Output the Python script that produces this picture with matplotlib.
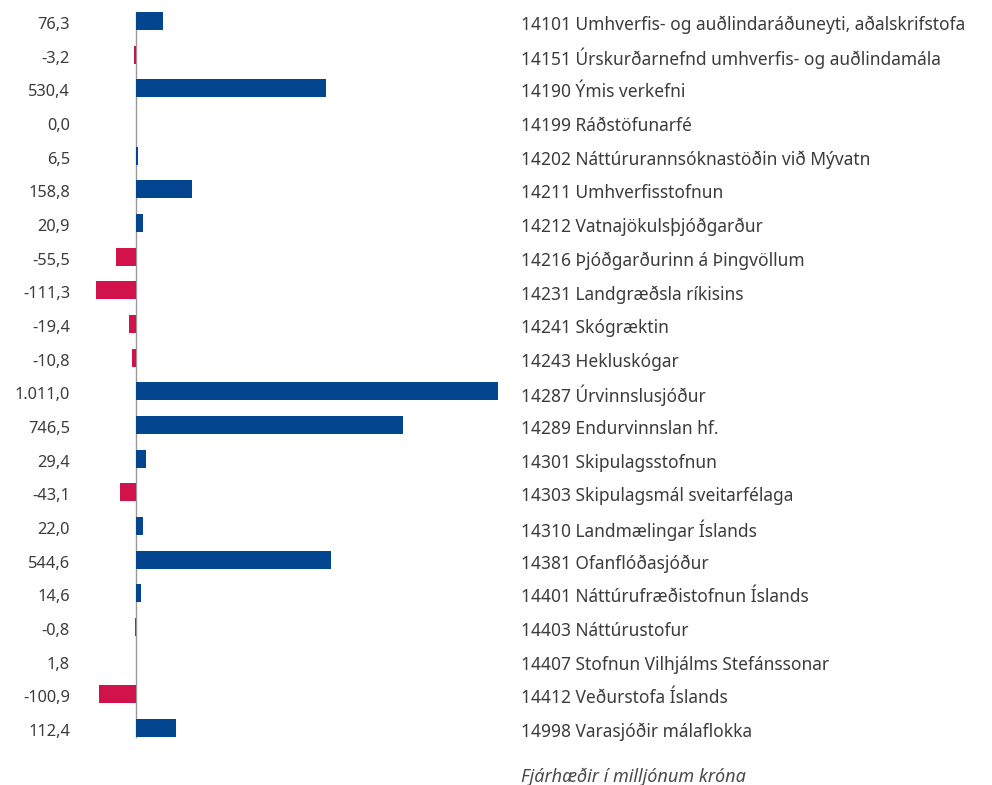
import matplotlib
matplotlib.use("Agg")
import matplotlib.pyplot as plt

codes = ["14101", "14151", "14190", "14199", "14202", "14211", "14212", "14216",
         "14231", "14241", "14243", "14287", "14289", "14301", "14303", "14310",
         "14381", "14401", "14403", "14407", "14412", "14998"]
names = ["Umhverfis- og auðlindaráðuneyti, aðalskrifstofa",
         "Úrskurðarnefnd umhverfis- og auðlindamála",
         "Ýmis verkefni",
         "Ráðstöfunarfé",
         "Náttúrurannsóknastöðin við Mývatn",
         "Umhverfisstofnun",
         "Vatnajökulsþjóðgarður",
         "Þjóðgarðurinn á Þingvöllum",
         "Landgræðsla ríkisins",
         "Skógræktin",
         "Hekluskógar",
         "Úrvinnslusjóður",
         "Endurvinnslan hf.",
         "Skipulagsstofnun",
         "Skipulagsmál sveitarfélaga",
         "Landmælingar Íslands",
         "Ofanflóðasjóður",
         "Náttúrufræðistofnun Íslands",
         "Náttúrustofur",
         "Stofnun Vilhjálms Stefánssonar",
         "Veðurstofa Íslands",
         "Varasjóðir málaflokka"]
values = [76.3, -3.2, 530.4, 0.0, 6.5, 158.8, 20.9, -55.5, -111.3, -19.4, -10.8,
          1011.0, 746.5, 29.4, -43.1, 22.0, 544.6, 14.6, -0.8, 1.8, -100.9, 112.4]
note = "Fjárhæðir í milljónum króna"

BLUE = "#03468F"
RED = "#D1124B"
TXT = "#3c3c3c"

plt.rcParams['font.family'] = ['Noto Sans', 'DejaVu Sans']


def fmt(v):
    s = f"{v:,.1f}"
    return s.replace(",", "X").replace(".", ",").replace("X", ".")


W, H = 992, 785
fig = plt.figure(figsize=(W / 100, H / 100), dpi=100)

# pixel geometry of the plotting area
x0_px, xmax_px = 135.5, 498.0
xmin, xmax = -300, 1011.0
scale = (xmax_px - x0_px) / xmax
left_px = x0_px + xmin * scale
width_px = (xmax - xmin) * scale
row0, rowN = 21.0, 728.0
step = (rowN - row0) / (len(values) - 1)
top_px = row0 - step / 2
bottom_px = rowN + step / 2

ax = fig.add_axes([left_px / W, 1 - bottom_px / H, width_px / W, (bottom_px - top_px) / H])
ax.set_xlim(xmin, xmax)
ax.set_ylim(len(values) - 0.5, -0.5)
ax.axis("off")

ypos = list(range(len(values)))
colors = [BLUE if v >= 0 else RED for v in values]
ax.barh(ypos, values, height=0.54, color=colors, zorder=2)
ax.axvline(0, color="#9a9a9a", linewidth=1.0, ymin=0.01, ymax=0.99, zorder=1)

# labels placed in figure pixels (baseline a bit below the bar centre)
for y, v, c, n in zip(ypos, values, codes, names):
    yy = 1 - (row0 + y * step + 2) / H
    fig.text(70 / W, yy, fmt(v), ha="right", va="center_baseline",
             fontsize=11.8, color=TXT)
    fig.text(521 / W, yy, f"{c} {n}", ha="left", va="center_baseline",
             fontsize=12.5, color=TXT)

fig.text(521 / W, 1 - 775 / H, note, ha="left", va="center_baseline", fontsize=13,
         style="italic", color="#4a4a4a")

fig.savefig("out.png", dpi=100, facecolor="white")
